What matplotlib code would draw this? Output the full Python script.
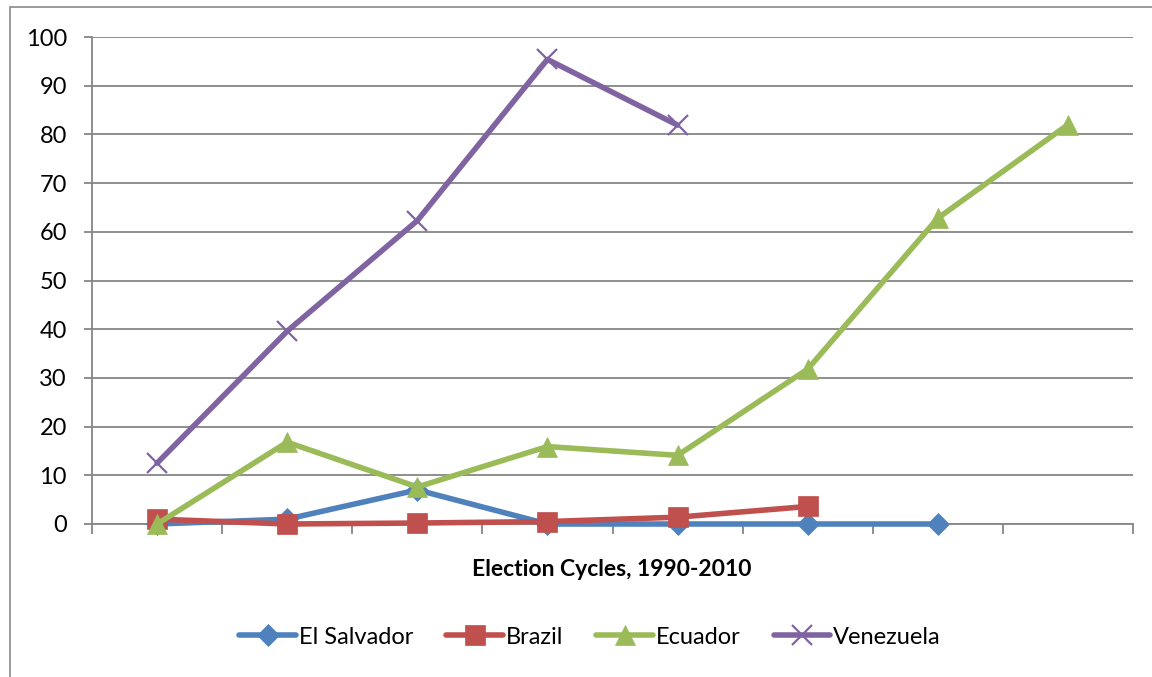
import matplotlib
matplotlib.use("Agg")
import matplotlib.pyplot as plt
from matplotlib.patches import Rectangle

plt.rcParams['font.family'] = ['Lato', 'DejaVu Sans']

n_categories = 8
el_salvador = [0, 1.0, 7.0, 0, 0, 0, 0]
brazil = [1.0, 0, 0.2, 0.5, 1.4, 3.6]
ecuador = [0, 16.8, 7.6, 15.9, 14.1, 31.8, 62.8, 82.0]
venezuela = [12.5, 39.6, 62.3, 95.4, 81.9]
series_names = ["El Salvador", "Brazil", "Ecuador", "Venezuela"]
y_ticks = list(range(0, 101, 10))
x_label = "Election Cycles, 1990-2010"

colors = ["#4F81BD", "#C0504D", "#9BBB59", "#8064A2"]
markers = ["D", "s", "^", "x"]
msizes = [11, 14, 15, 14]

W, H = 1152, 677
fig = plt.figure(figsize=(W / 100, H / 100), dpi=100)
fig.patches.append(Rectangle((10 / W, -0.1), 1.2, 1 - 7 / H + 0.1, transform=fig.transFigure,
                             fill=False, edgecolor="#898989", linewidth=1.2))

ax = fig.add_axes([92 / W, 1 - 524 / H, (1133 - 92) / W, (524 - 37) / H])
grid_c = "#868686"

data = [el_salvador, brazil, ecuador, venezuela]
for i, (vals, name) in enumerate(zip(data, series_names)):
    xs = [k + 0.5 for k in range(len(vals))]
    ax.plot(xs, vals, color=colors[i], linewidth=4.0, marker=markers[i], markersize=msizes[i],
            markeredgewidth=1.6 if markers[i] == "x" else 0.5, markeredgecolor=colors[i],
            markerfacecolor=colors[i], label=name, zorder=3 + i, clip_on=False,
            solid_capstyle="round", solid_joinstyle="round")

ax.set_xlim(0, n_categories)
ax.set_ylim(0, 100)
ax.set_yticks(y_ticks)
ax.set_yticklabels([str(t) for t in y_ticks], fontsize=17)
ax.set_xticks(range(0, n_categories + 1))
ax.set_xticklabels([])
ax.tick_params(axis="y", direction="out", length=6, width=1.3, color=grid_c, pad=12)
ax.tick_params(axis="x", direction="out", length=7, width=1.3, color=grid_c)
ax.yaxis.grid(True, color=grid_c, linewidth=1.3)
ax.set_axisbelow(True)
for s in ["top", "right"]:
    ax.spines[s].set_visible(False)
for s in ["left", "bottom"]:
    ax.spines[s].set_color(grid_c)
    ax.spines[s].set_linewidth(1.3)

fig.text(612 / W, 1 - 570 / H, x_label, ha="center", va="center", fontsize=16.5, fontweight="bold")

fig.legend(loc="center", bbox_to_anchor=(590 / W, 1 - 637 / H), ncol=4, frameon=False,
           fontsize=17, handlelength=2.4, handletextpad=0.12, columnspacing=1.4, numpoints=1)

fig.savefig("out.png", dpi=100)
